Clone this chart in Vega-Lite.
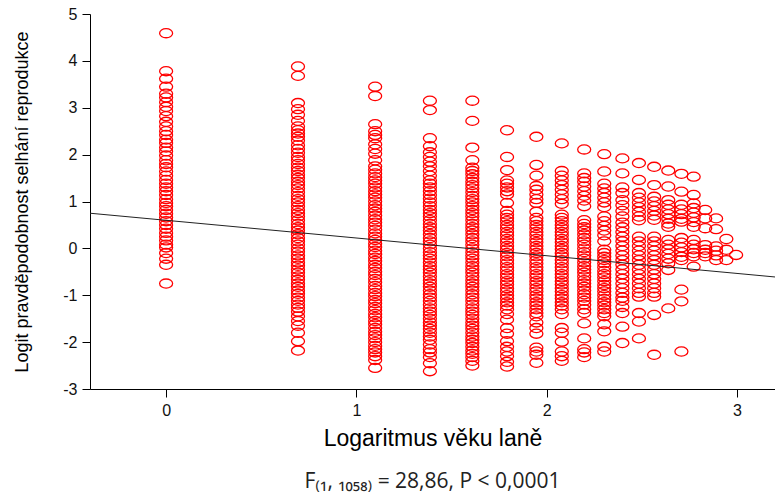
{
  "$schema": "https://vega.github.io/schema/vega-lite/v6.json",
  "width": 685,
  "height": 375,
  "autosize": {"type": "none"},
  "padding": {"left": 90, "top": 14, "right": 0, "bottom": 108},
  "background": "white",
  "config": {
    "view": {"stroke": null},
    "axis": {
      "grid": false,
      "domainColor": "black",
      "tickColor": "black",
      "labelColor": "#111111",
      "titleColor": "black",
      "labelFont": "Liberation Sans",
      "titleFont": "Liberation Sans",
      "labelFontSize": 16,
      "titleFontWeight": "normal",
      "tickSize": 8,
      "labelPadding": 5,
      "labelExpr": "toString(datum.value)"
    }
  },
  "title": {
    "text": "F₍₁, ₁₀₅₈₎ = 28,86, P < 0,0001",
    "orient": "bottom",
    "anchor": "middle",
    "font": "Open Sans",
    "fontSize": 21,
    "fontWeight": "normal",
    "color": "#222222",
    "offset": 21
  },
  "layer": [
    {
      "data": {
        "values": [
          {"x":0,"y":4.59},{"x":0,"y":3.78},{"x":0,"y":3.62},{"x":0,"y":3.45},{"x":0,"y":3.30},{"x":0,"y":3.22},{"x":0,"y":3.12},{"x":0,"y":3.02},{"x":0,"y":2.93},{"x":0,"y":2.82},{"x":0,"y":2.70},{"x":0,"y":2.60},{"x":0,"y":2.50},{"x":0,"y":2.42},{"x":0,"y":2.32},{"x":0,"y":2.25},{"x":0,"y":2.15},{"x":0,"y":2.07},{"x":0,"y":1.98},{"x":0,"y":1.88},{"x":0,"y":1.80},{"x":0,"y":1.73},{"x":0,"y":1.64},{"x":0,"y":1.55},{"x":0,"y":1.46},{"x":0,"y":1.38},{"x":0,"y":1.30},{"x":0,"y":1.22},{"x":0,"y":1.14},{"x":0,"y":1.05},{"x":0,"y":0.97},{"x":0,"y":0.90},{"x":0,"y":0.82},{"x":0,"y":0.74},{"x":0,"y":0.66},{"x":0,"y":0.58},{"x":0,"y":0.50},{"x":0,"y":0.42},{"x":0,"y":0.33},{"x":0,"y":0.25},{"x":0,"y":0.17},{"x":0,"y":0.08},{"x":0,"y":0.02},{"x":0,"y":-0.10},{"x":0,"y":-0.22},{"x":0,"y":-0.35},{"x":0,"y":-0.75},
          {"x":0.6931,"y":3.88},{"x":0.6931,"y":3.68},{"x":0.6931,"y":3.10},{"x":0.6931,"y":2.97},{"x":0.6931,"y":2.85},{"x":0.6931,"y":2.72},{"x":0.6931,"y":2.60},{"x":0.6931,"y":2.52},{"x":0.6931,"y":2.45},{"x":0.6931,"y":2.38},{"x":0.6931,"y":2.30},{"x":0.6931,"y":2.20},{"x":0.6931,"y":2.12},{"x":0.6931,"y":2.04},{"x":0.6931,"y":1.95},{"x":0.6931,"y":1.88},{"x":0.6931,"y":1.80},{"x":0.6931,"y":1.72},{"x":0.6931,"y":1.65},{"x":0.6931,"y":1.57},{"x":0.6931,"y":1.50},{"x":0.6931,"y":1.42},{"x":0.6931,"y":1.35},{"x":0.6931,"y":1.28},{"x":0.6931,"y":1.20},{"x":0.6931,"y":1.12},{"x":0.6931,"y":1.05},{"x":0.6931,"y":0.98},{"x":0.6931,"y":0.90},{"x":0.6931,"y":0.82},{"x":0.6931,"y":0.75},{"x":0.6931,"y":0.68},{"x":0.6931,"y":0.60},{"x":0.6931,"y":0.52},{"x":0.6931,"y":0.45},{"x":0.6931,"y":0.38},{"x":0.6931,"y":0.30},{"x":0.6931,"y":0.22},{"x":0.6931,"y":0.15},{"x":0.6931,"y":0.08},{"x":0.6931,"y":0.00},{"x":0.6931,"y":-0.07},{"x":0.6931,"y":-0.15},{"x":0.6931,"y":-0.22},{"x":0.6931,"y":-0.30},{"x":0.6931,"y":-0.37},{"x":0.6931,"y":-0.45},{"x":0.6931,"y":-0.52},{"x":0.6931,"y":-0.60},{"x":0.6931,"y":-0.67},{"x":0.6931,"y":-0.75},{"x":0.6931,"y":-0.82},{"x":0.6931,"y":-0.90},{"x":0.6931,"y":-0.97},{"x":0.6931,"y":-1.05},{"x":0.6931,"y":-1.12},{"x":0.6931,"y":-1.20},{"x":0.6931,"y":-1.27},{"x":0.6931,"y":-1.35},{"x":0.6931,"y":-1.45},{"x":0.6931,"y":-1.55},{"x":0.6931,"y":-1.65},{"x":0.6931,"y":-1.80},{"x":0.6931,"y":-1.98},{"x":0.6931,"y":-2.18},
          {"x":1.0986,"y":3.45},{"x":1.0986,"y":3.25},{"x":1.0986,"y":2.65},{"x":1.0986,"y":2.50},{"x":1.0986,"y":2.42},{"x":1.0986,"y":2.35},{"x":1.0986,"y":2.22},{"x":1.0986,"y":2.12},{"x":1.0986,"y":2.02},{"x":1.0986,"y":1.88},{"x":1.0986,"y":1.75},{"x":1.0986,"y":1.68},{"x":1.0986,"y":1.60},{"x":1.0986,"y":1.52},{"x":1.0986,"y":1.45},{"x":1.0986,"y":1.38},{"x":1.0986,"y":1.30},{"x":1.0986,"y":1.22},{"x":1.0986,"y":1.15},{"x":1.0986,"y":1.08},{"x":1.0986,"y":1.00},{"x":1.0986,"y":0.92},{"x":1.0986,"y":0.85},{"x":1.0986,"y":0.78},{"x":1.0986,"y":0.70},{"x":1.0986,"y":0.62},{"x":1.0986,"y":0.55},{"x":1.0986,"y":0.48},{"x":1.0986,"y":0.40},{"x":1.0986,"y":0.32},{"x":1.0986,"y":0.25},{"x":1.0986,"y":0.18},{"x":1.0986,"y":0.10},{"x":1.0986,"y":0.03},{"x":1.0986,"y":-0.05},{"x":1.0986,"y":-0.12},{"x":1.0986,"y":-0.20},{"x":1.0986,"y":-0.27},{"x":1.0986,"y":-0.35},{"x":1.0986,"y":-0.42},{"x":1.0986,"y":-0.50},{"x":1.0986,"y":-0.57},{"x":1.0986,"y":-0.65},{"x":1.0986,"y":-0.72},{"x":1.0986,"y":-0.80},{"x":1.0986,"y":-0.87},{"x":1.0986,"y":-0.95},{"x":1.0986,"y":-1.02},{"x":1.0986,"y":-1.10},{"x":1.0986,"y":-1.17},{"x":1.0986,"y":-1.25},{"x":1.0986,"y":-1.32},{"x":1.0986,"y":-1.40},{"x":1.0986,"y":-1.47},{"x":1.0986,"y":-1.55},{"x":1.0986,"y":-1.62},{"x":1.0986,"y":-1.70},{"x":1.0986,"y":-1.78},{"x":1.0986,"y":-1.85},{"x":1.0986,"y":-1.92},{"x":1.0986,"y":-2.00},{"x":1.0986,"y":-2.08},{"x":1.0986,"y":-2.15},{"x":1.0986,"y":-2.22},{"x":1.0986,"y":-2.30},{"x":1.0986,"y":-2.38},{"x":1.0986,"y":-2.55},
          {"x":1.3863,"y":3.15},{"x":1.3863,"y":2.95},{"x":1.3863,"y":2.35},{"x":1.3863,"y":2.18},{"x":1.3863,"y":2.05},{"x":1.3863,"y":1.95},{"x":1.3863,"y":1.85},{"x":1.3863,"y":1.75},{"x":1.3863,"y":1.65},{"x":1.3863,"y":1.55},{"x":1.3863,"y":1.45},{"x":1.3863,"y":1.38},{"x":1.3863,"y":1.30},{"x":1.3863,"y":1.22},{"x":1.3863,"y":1.14},{"x":1.3863,"y":1.06},{"x":1.3863,"y":0.98},{"x":1.3863,"y":0.90},{"x":1.3863,"y":0.82},{"x":1.3863,"y":0.75},{"x":1.3863,"y":0.68},{"x":1.3863,"y":0.60},{"x":1.3863,"y":0.52},{"x":1.3863,"y":0.45},{"x":1.3863,"y":0.38},{"x":1.3863,"y":0.30},{"x":1.3863,"y":0.22},{"x":1.3863,"y":0.15},{"x":1.3863,"y":0.08},{"x":1.3863,"y":0.00},{"x":1.3863,"y":-0.08},{"x":1.3863,"y":-0.15},{"x":1.3863,"y":-0.22},{"x":1.3863,"y":-0.30},{"x":1.3863,"y":-0.38},{"x":1.3863,"y":-0.45},{"x":1.3863,"y":-0.52},{"x":1.3863,"y":-0.60},{"x":1.3863,"y":-0.68},{"x":1.3863,"y":-0.75},{"x":1.3863,"y":-0.82},{"x":1.3863,"y":-0.90},{"x":1.3863,"y":-0.98},{"x":1.3863,"y":-1.05},{"x":1.3863,"y":-1.12},{"x":1.3863,"y":-1.20},{"x":1.3863,"y":-1.28},{"x":1.3863,"y":-1.35},{"x":1.3863,"y":-1.42},{"x":1.3863,"y":-1.50},{"x":1.3863,"y":-1.58},{"x":1.3863,"y":-1.65},{"x":1.3863,"y":-1.72},{"x":1.3863,"y":-1.80},{"x":1.3863,"y":-1.88},{"x":1.3863,"y":-1.95},{"x":1.3863,"y":-2.05},{"x":1.3863,"y":-2.15},{"x":1.3863,"y":-2.22},{"x":1.3863,"y":-2.32},{"x":1.3863,"y":-2.45},{"x":1.3863,"y":-2.62},
          {"x":1.6094,"y":3.15},{"x":1.6094,"y":2.72},{"x":1.6094,"y":2.15},{"x":1.6094,"y":1.88},{"x":1.6094,"y":1.72},{"x":1.6094,"y":1.65},{"x":1.6094,"y":1.58},{"x":1.6094,"y":1.50},{"x":1.6094,"y":1.42},{"x":1.6094,"y":1.35},{"x":1.6094,"y":1.28},{"x":1.6094,"y":1.20},{"x":1.6094,"y":1.12},{"x":1.6094,"y":1.05},{"x":1.6094,"y":0.98},{"x":1.6094,"y":0.90},{"x":1.6094,"y":0.82},{"x":1.6094,"y":0.75},{"x":1.6094,"y":0.68},{"x":1.6094,"y":0.60},{"x":1.6094,"y":0.52},{"x":1.6094,"y":0.45},{"x":1.6094,"y":0.38},{"x":1.6094,"y":0.30},{"x":1.6094,"y":0.22},{"x":1.6094,"y":0.15},{"x":1.6094,"y":0.08},{"x":1.6094,"y":0.00},{"x":1.6094,"y":-0.08},{"x":1.6094,"y":-0.15},{"x":1.6094,"y":-0.22},{"x":1.6094,"y":-0.30},{"x":1.6094,"y":-0.38},{"x":1.6094,"y":-0.45},{"x":1.6094,"y":-0.52},{"x":1.6094,"y":-0.60},{"x":1.6094,"y":-0.68},{"x":1.6094,"y":-0.75},{"x":1.6094,"y":-0.82},{"x":1.6094,"y":-0.90},{"x":1.6094,"y":-0.98},{"x":1.6094,"y":-1.05},{"x":1.6094,"y":-1.12},{"x":1.6094,"y":-1.20},{"x":1.6094,"y":-1.28},{"x":1.6094,"y":-1.35},{"x":1.6094,"y":-1.42},{"x":1.6094,"y":-1.50},{"x":1.6094,"y":-1.58},{"x":1.6094,"y":-1.65},{"x":1.6094,"y":-1.72},{"x":1.6094,"y":-1.80},{"x":1.6094,"y":-1.88},{"x":1.6094,"y":-1.95},{"x":1.6094,"y":-2.02},{"x":1.6094,"y":-2.10},{"x":1.6094,"y":-2.18},{"x":1.6094,"y":-2.25},{"x":1.6094,"y":-2.32},{"x":1.6094,"y":-2.40},{"x":1.6094,"y":-2.50},
          {"x":1.7918,"y":2.52},{"x":1.7918,"y":1.95},{"x":1.7918,"y":1.67},{"x":1.7918,"y":1.45},{"x":1.7918,"y":1.38},{"x":1.7918,"y":1.30},{"x":1.7918,"y":1.22},{"x":1.7918,"y":1.15},{"x":1.7918,"y":0.97},{"x":1.7918,"y":0.80},{"x":1.7918,"y":0.72},{"x":1.7918,"y":0.65},{"x":1.7918,"y":0.58},{"x":1.7918,"y":0.50},{"x":1.7918,"y":0.43},{"x":1.7918,"y":0.35},{"x":1.7918,"y":0.28},{"x":1.7918,"y":0.20},{"x":1.7918,"y":0.13},{"x":1.7918,"y":0.05},{"x":1.7918,"y":-0.02},{"x":1.7918,"y":-0.10},{"x":1.7918,"y":-0.17},{"x":1.7918,"y":-0.25},{"x":1.7918,"y":-0.32},{"x":1.7918,"y":-0.40},{"x":1.7918,"y":-0.47},{"x":1.7918,"y":-0.55},{"x":1.7918,"y":-0.62},{"x":1.7918,"y":-0.70},{"x":1.7918,"y":-0.77},{"x":1.7918,"y":-0.85},{"x":1.7918,"y":-0.92},{"x":1.7918,"y":-1.00},{"x":1.7918,"y":-1.07},{"x":1.7918,"y":-1.15},{"x":1.7918,"y":-1.22},{"x":1.7918,"y":-1.30},{"x":1.7918,"y":-1.40},{"x":1.7918,"y":-1.52},{"x":1.7918,"y":-1.70},{"x":1.7918,"y":-1.82},{"x":1.7918,"y":-1.98},{"x":1.7918,"y":-2.10},{"x":1.7918,"y":-2.20},{"x":1.7918,"y":-2.30},{"x":1.7918,"y":-2.42},{"x":1.7918,"y":-2.52},
          {"x":1.9459,"y":2.38},{"x":1.9459,"y":1.78},{"x":1.9459,"y":1.55},{"x":1.9459,"y":1.33},{"x":1.9459,"y":1.25},{"x":1.9459,"y":1.15},{"x":1.9459,"y":1.05},{"x":1.9459,"y":0.97},{"x":1.9459,"y":0.78},{"x":1.9459,"y":0.65},{"x":1.9459,"y":0.58},{"x":1.9459,"y":0.50},{"x":1.9459,"y":0.43},{"x":1.9459,"y":0.35},{"x":1.9459,"y":0.28},{"x":1.9459,"y":0.20},{"x":1.9459,"y":0.13},{"x":1.9459,"y":0.05},{"x":1.9459,"y":-0.02},{"x":1.9459,"y":-0.10},{"x":1.9459,"y":-0.17},{"x":1.9459,"y":-0.25},{"x":1.9459,"y":-0.32},{"x":1.9459,"y":-0.40},{"x":1.9459,"y":-0.47},{"x":1.9459,"y":-0.55},{"x":1.9459,"y":-0.62},{"x":1.9459,"y":-0.70},{"x":1.9459,"y":-0.77},{"x":1.9459,"y":-0.85},{"x":1.9459,"y":-0.92},{"x":1.9459,"y":-1.00},{"x":1.9459,"y":-1.07},{"x":1.9459,"y":-1.15},{"x":1.9459,"y":-1.22},{"x":1.9459,"y":-1.30},{"x":1.9459,"y":-1.38},{"x":1.9459,"y":-1.45},{"x":1.9459,"y":-1.58},{"x":1.9459,"y":-1.70},{"x":1.9459,"y":-1.82},{"x":1.9459,"y":-2.12},{"x":1.9459,"y":-2.20},{"x":1.9459,"y":-2.27},{"x":1.9459,"y":-2.44},
          {"x":2.0794,"y":2.24},{"x":2.0794,"y":1.65},{"x":2.0794,"y":1.55},{"x":2.0794,"y":1.45},{"x":2.0794,"y":1.35},{"x":2.0794,"y":1.25},{"x":2.0794,"y":1.15},{"x":2.0794,"y":1.05},{"x":2.0794,"y":0.95},{"x":2.0794,"y":0.72},{"x":2.0794,"y":0.65},{"x":2.0794,"y":0.58},{"x":2.0794,"y":0.50},{"x":2.0794,"y":0.43},{"x":2.0794,"y":0.35},{"x":2.0794,"y":0.28},{"x":2.0794,"y":0.20},{"x":2.0794,"y":0.13},{"x":2.0794,"y":0.05},{"x":2.0794,"y":-0.02},{"x":2.0794,"y":-0.10},{"x":2.0794,"y":-0.17},{"x":2.0794,"y":-0.25},{"x":2.0794,"y":-0.32},{"x":2.0794,"y":-0.40},{"x":2.0794,"y":-0.47},{"x":2.0794,"y":-0.55},{"x":2.0794,"y":-0.62},{"x":2.0794,"y":-0.70},{"x":2.0794,"y":-0.77},{"x":2.0794,"y":-0.85},{"x":2.0794,"y":-0.92},{"x":2.0794,"y":-1.00},{"x":2.0794,"y":-1.07},{"x":2.0794,"y":-1.15},{"x":2.0794,"y":-1.22},{"x":2.0794,"y":-1.30},{"x":2.0794,"y":-1.40},{"x":2.0794,"y":-1.70},{"x":2.0794,"y":-1.80},{"x":2.0794,"y":-1.99},{"x":2.0794,"y":-2.20},{"x":2.0794,"y":-2.30},{"x":2.0794,"y":-2.40},
          {"x":2.1972,"y":2.11},{"x":2.1972,"y":1.60},{"x":2.1972,"y":1.50},{"x":2.1972,"y":1.42},{"x":2.1972,"y":1.32},{"x":2.1972,"y":1.22},{"x":2.1972,"y":1.12},{"x":2.1972,"y":1.02},{"x":2.1972,"y":0.90},{"x":2.1972,"y":0.60},{"x":2.1972,"y":0.52},{"x":2.1972,"y":0.45},{"x":2.1972,"y":0.38},{"x":2.1972,"y":0.30},{"x":2.1972,"y":0.22},{"x":2.1972,"y":0.15},{"x":2.1972,"y":0.08},{"x":2.1972,"y":0.00},{"x":2.1972,"y":-0.08},{"x":2.1972,"y":-0.15},{"x":2.1972,"y":-0.22},{"x":2.1972,"y":-0.30},{"x":2.1972,"y":-0.38},{"x":2.1972,"y":-0.45},{"x":2.1972,"y":-0.52},{"x":2.1972,"y":-0.60},{"x":2.1972,"y":-0.68},{"x":2.1972,"y":-0.75},{"x":2.1972,"y":-0.82},{"x":2.1972,"y":-0.90},{"x":2.1972,"y":-0.98},{"x":2.1972,"y":-1.05},{"x":2.1972,"y":-1.12},{"x":2.1972,"y":-1.20},{"x":2.1972,"y":-1.30},{"x":2.1972,"y":-1.38},{"x":2.1972,"y":-1.60},{"x":2.1972,"y":-1.92},{"x":2.1972,"y":-2.15},{"x":2.1972,"y":-2.22},{"x":2.1972,"y":-2.32},
          {"x":2.3026,"y":2.01},{"x":2.3026,"y":1.64},{"x":2.3026,"y":1.38},{"x":2.3026,"y":1.28},{"x":2.3026,"y":1.18},{"x":2.3026,"y":1.08},{"x":2.3026,"y":0.98},{"x":2.3026,"y":0.88},{"x":2.3026,"y":0.68},{"x":2.3026,"y":0.58},{"x":2.3026,"y":0.48},{"x":2.3026,"y":0.38},{"x":2.3026,"y":0.28},{"x":2.3026,"y":0.15},{"x":2.3026,"y":-0.03},{"x":2.3026,"y":-0.10},{"x":2.3026,"y":-0.18},{"x":2.3026,"y":-0.25},{"x":2.3026,"y":-0.32},{"x":2.3026,"y":-0.40},{"x":2.3026,"y":-0.48},{"x":2.3026,"y":-0.55},{"x":2.3026,"y":-0.62},{"x":2.3026,"y":-0.70},{"x":2.3026,"y":-0.78},{"x":2.3026,"y":-0.85},{"x":2.3026,"y":-0.92},{"x":2.3026,"y":-1.00},{"x":2.3026,"y":-1.08},{"x":2.3026,"y":-1.15},{"x":2.3026,"y":-1.22},{"x":2.3026,"y":-1.30},{"x":2.3026,"y":-1.38},{"x":2.3026,"y":-1.45},{"x":2.3026,"y":-1.62},{"x":2.3026,"y":-1.77},{"x":2.3026,"y":-2.10},{"x":2.3026,"y":-2.20},
          {"x":2.3979,"y":1.92},{"x":2.3979,"y":1.60},{"x":2.3979,"y":1.30},{"x":2.3979,"y":1.18},{"x":2.3979,"y":1.03},{"x":2.3979,"y":0.92},{"x":2.3979,"y":0.80},{"x":2.3979,"y":0.68},{"x":2.3979,"y":0.55},{"x":2.3979,"y":0.45},{"x":2.3979,"y":0.35},{"x":2.3979,"y":0.25},{"x":2.3979,"y":0.15},{"x":2.3979,"y":0.05},{"x":2.3979,"y":-0.05},{"x":2.3979,"y":-0.15},{"x":2.3979,"y":-0.25},{"x":2.3979,"y":-0.35},{"x":2.3979,"y":-0.45},{"x":2.3979,"y":-0.55},{"x":2.3979,"y":-0.65},{"x":2.3979,"y":-0.75},{"x":2.3979,"y":-0.85},{"x":2.3979,"y":-0.95},{"x":2.3979,"y":-1.05},{"x":2.3979,"y":-1.12},{"x":2.3979,"y":-1.25},{"x":2.3979,"y":-1.38},{"x":2.3979,"y":-1.67},{"x":2.3979,"y":-2.02},
          {"x":2.4849,"y":1.82},{"x":2.4849,"y":1.46},{"x":2.4849,"y":1.18},{"x":2.4849,"y":1.08},{"x":2.4849,"y":0.98},{"x":2.4849,"y":0.88},{"x":2.4849,"y":0.78},{"x":2.4849,"y":0.68},{"x":2.4849,"y":0.60},{"x":2.4849,"y":0.25},{"x":2.4849,"y":0.15},{"x":2.4849,"y":0.05},{"x":2.4849,"y":-0.05},{"x":2.4849,"y":-0.15},{"x":2.4849,"y":-0.25},{"x":2.4849,"y":-0.35},{"x":2.4849,"y":-0.45},{"x":2.4849,"y":-0.55},{"x":2.4849,"y":-0.65},{"x":2.4849,"y":-0.75},{"x":2.4849,"y":-0.85},{"x":2.4849,"y":-0.95},{"x":2.4849,"y":-1.03},{"x":2.4849,"y":-1.38},{"x":2.4849,"y":-1.56},{"x":2.4849,"y":-1.92},
          {"x":2.5649,"y":1.74},{"x":2.5649,"y":1.35},{"x":2.5649,"y":1.10},{"x":2.5649,"y":1.00},{"x":2.5649,"y":0.90},{"x":2.5649,"y":0.80},{"x":2.5649,"y":0.70},{"x":2.5649,"y":0.61},{"x":2.5649,"y":0.25},{"x":2.5649,"y":0.15},{"x":2.5649,"y":0.05},{"x":2.5649,"y":-0.05},{"x":2.5649,"y":-0.15},{"x":2.5649,"y":-0.25},{"x":2.5649,"y":-0.35},{"x":2.5649,"y":-0.45},{"x":2.5649,"y":-0.55},{"x":2.5649,"y":-0.65},{"x":2.5649,"y":-0.75},{"x":2.5649,"y":-0.85},{"x":2.5649,"y":-0.95},{"x":2.5649,"y":-1.03},{"x":2.5649,"y":-1.42},{"x":2.5649,"y":-2.27},
          {"x":2.6391,"y":1.66},{"x":2.6391,"y":1.32},{"x":2.6391,"y":1.03},{"x":2.6391,"y":0.93},{"x":2.6391,"y":0.83},{"x":2.6391,"y":0.73},{"x":2.6391,"y":0.63},{"x":2.6391,"y":0.53},{"x":2.6391,"y":0.46},{"x":2.6391,"y":0.18},{"x":2.6391,"y":0.08},{"x":2.6391,"y":-0.02},{"x":2.6391,"y":-0.12},{"x":2.6391,"y":-0.22},{"x":2.6391,"y":-0.32},{"x":2.6391,"y":-0.46},{"x":2.6391,"y":-1.28},
          {"x":2.7081,"y":1.59},{"x":2.7081,"y":1.21},{"x":2.7081,"y":0.93},{"x":2.7081,"y":0.83},{"x":2.7081,"y":0.73},{"x":2.7081,"y":0.63},{"x":2.7081,"y":0.57},{"x":2.7081,"y":0.22},{"x":2.7081,"y":0.12},{"x":2.7081,"y":0.02},{"x":2.7081,"y":-0.08},{"x":2.7081,"y":-0.18},{"x":2.7081,"y":-0.25},{"x":2.7081,"y":-0.88},{"x":2.7081,"y":-1.13},{"x":2.7081,"y":-2.20},
          {"x":2.7726,"y":1.53},{"x":2.7726,"y":1.14},{"x":2.7726,"y":0.96},{"x":2.7726,"y":0.86},{"x":2.7726,"y":0.76},{"x":2.7726,"y":0.66},{"x":2.7726,"y":0.56},{"x":2.7726,"y":0.46},{"x":2.7726,"y":0.18},{"x":2.7726,"y":0.08},{"x":2.7726,"y":-0.02},{"x":2.7726,"y":-0.10},{"x":2.7726,"y":-0.17},{"x":2.7726,"y":-0.39},
          {"x":2.8332,"y":0.82},{"x":2.8332,"y":0.64},{"x":2.8332,"y":0.43},{"x":2.8332,"y":0.07},{"x":2.8332,"y":-0.03},{"x":2.8332,"y":-0.10},{"x":2.8332,"y":-0.17},
          {"x":2.8904,"y":0.64},{"x":2.8904,"y":0.41},{"x":2.8904,"y":0.04},{"x":2.8904,"y":-0.05},{"x":2.8904,"y":-0.15},{"x":2.8904,"y":-0.25},
          {"x":2.9444,"y":0.20},{"x":2.9444,"y":-0.03},{"x":2.9444,"y":-0.25},
          {"x":2.9957,"y":-0.14}
        ]
      },
      "mark": {
        "type": "point",
        "shape": "M-1,0A1,0.7,0,1,1,1,0A1,0.7,0,1,1,-1,0Z",
        "size": 169,
        "filled": false,
        "color": "#ff0000",
        "strokeWidth": 1.3,
        "opacity": 1
      },
      "encoding": {
        "x": {
          "field": "x",
          "type": "quantitative",
          "scale": {"domain": [-0.4, 3.2], "nice": false, "zero": false},
          "axis": {
            "values": [0, 1, 2, 3],
            "title": "Logaritmus věku laně",
            "titleFontSize": 23,
            "titlePadding": 9
          }
        },
        "y": {
          "field": "y",
          "type": "quantitative",
          "scale": {"domain": [-3, 5], "nice": false, "zero": false},
          "axis": {
            "values": [-3, -2, -1, 0, 1, 2, 3, 4, 5],
            "title": "Logit pravděpodobnost selhání reprodukce",
            "titleFontSize": 18,
            "titlePadding": 31
          }
        }
      }
    },
    {
      "data": {"values": [{"x": -0.4, "y": 0.75}, {"x": 3.2, "y": -0.61}]},
      "mark": {"type": "line", "color": "#222222", "strokeWidth": 1},
      "encoding": {
        "x": {"field": "x", "type": "quantitative"},
        "y": {"field": "y", "type": "quantitative"}
      }
    }
  ]
}
